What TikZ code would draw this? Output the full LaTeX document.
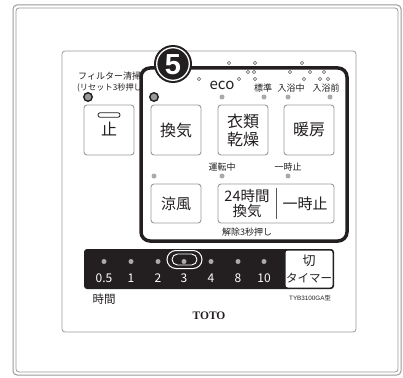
\documentclass[tikz,border=0pt]{standalone}
\usepackage{fontspec}
\setmainfont{Noto Sans CJK JP}
\newfontfamily\libsans{Liberation Sans}
\newfontfamily\libserif{Liberation Serif}
\definecolor{ink}{HTML}{231F20}
\definecolor{panelgray}{HTML}{9A9A9A}
\definecolor{ledgray}{HTML}{AAAAAA}
\newcommand{\fs}[1]{\fontsize{#1}{#1}\selectfont}
\begin{document}
\begin{tikzpicture}[x=1pt,y=-1pt,
  btn/.style={draw=panelgray, line width=0.9pt, rounded corners=3pt, fill=white, inner sep=0pt, text=ink},
  lbl/.style={inner sep=0pt, font=\fs{9}, text=ink},
  dotled/.style={circle, fill=ledgray, inner sep=0pt, minimum size=5pt},
  bigled/.style={circle, fill=gray!80, draw=ink, line width=1.4pt, inner sep=0pt, minimum size=8.5pt},
  tinyo/.style={circle, draw=ink, line width=0.45pt, inner sep=0pt, minimum size=3.2pt},
  num/.style={inner sep=0pt, text=white, font=\fs{12}}]
\useasboundingbox (0,0) rectangle (403,377);
% frames
\draw[panelgray, line width=1pt, rounded corners=4pt] (13,5) rectangle (401,375);
\draw[panelgray, line width=0.8pt, rounded corners=3pt] (16,8) rectangle (398,372);
\draw[panelgray, line width=0.8pt, rounded corners=3pt] (62,51) rectangle (356,332);
% filter text
\node[lbl, anchor=west] (filt1) at (78,76) {フィルター清掃};
\node[lbl, anchor=west, font=\fs{8.2}] (filt2) at (77,88) {(リセット3秒押し};
% black box interior
\fill[white, rounded corners=9pt] (141,68) rectangle (347,241);
% tiny circles
\foreach \x/\y [count=\i] in {199/79,229/63,239/79,248/72,254/72,255/63,255/79,290/72,302/63,304/79,310/72,320/79,324/72,328/79}
  \node[tinyo] (o\i) at (\x,\y) {};
% black box border
\draw[ink, line width=3.5pt, rounded corners=9pt] (141,68) rectangle (347,241);
% circle 5
\node[circle, fill=ink, minimum size=38pt, inner sep=0pt] (five) at (173,64) {};
\draw[white, line width=1.3pt] (five.center) circle[radius=16.3pt];
\node[inner sep=0pt, text=white, font=\libsans\bfseries\fs{29}] (fivet) at (173,65) {5};
% left stop button
\node[btn, minimum width=50pt, minimum height=50pt] (stop) at (109,130) {};
\node[draw=ink, line width=0.8pt, rounded corners=2.2pt, minimum width=22pt, minimum height=4.6pt, inner sep=0pt] (pill) at (109,115) {};
\node[inner sep=0pt, text=ink, font=\fs{16}] (stopt) at (109,129) {止};
% row 1 buttons
\node[btn, minimum width=50pt, minimum height=50pt, font=\fs{16}] (kanki) at (176,130) {換気};
\node[btn, minimum width=50pt, minimum height=50pt, font=\fontsize{16}{18}\selectfont, align=center] (dry) at (243,130) {衣類\\乾燥};
\node[btn, minimum width=50pt, minimum height=50pt, font=\fs{16}] (heat) at (309,130) {暖房};
% row 2 buttons
\node[btn, minimum width=50pt, minimum height=39pt, font=\fs{15}] (cool) at (176,203.5) {涼風};
\node[btn, minimum width=116pt, minimum height=39pt] (vent) at (276,203.5) {};
\draw[ink!75, line width=0.9pt] ([yshift=-4pt]vent.north) -- ([yshift=4pt]vent.south);
\node[inner sep=0pt, text=ink, font=\fontsize{14.5}{15}\selectfont, align=center] (ventt) at (247,204) {24時間\\換気};
\node[inner sep=0pt, text=ink, font=\fs{15}] (pause) at (305,204) {一時止};
% leds and labels row 1
\node[bigled] (led1) at (88,97) {};
\node[bigled] (led2) at (154,97) {};
\node[inner sep=0pt, text=ink, font=\fs{15}] (eco) at (222,85.5) {eco};
\node[lbl] (std) at (263,88) {標準};
\node[lbl] (bath) at (291,88) {入浴中};
\node[lbl] (pre) at (326,88) {入浴前};
\node[dotled] (d1) at (222,97) {};
\node[dotled] (d2) at (264,97) {};
\node[dotled] (d3) at (288,97) {};
\node[dotled] (d4) at (330,97) {};
% row 2 labels
\node[lbl] (run) at (222,167) {運転中};
\node[lbl] (pz) at (288,167) {一時止};
\node[dotled] (d5) at (154,176) {};
\node[dotled] (d6) at (222,176) {};
\node[dotled] (d7) at (288,176) {};
\node[lbl] (rel) at (247,232) {解除3秒押し};
% timer bar
\node[fill=ink, rounded corners=3pt, minimum width=250pt, minimum height=40pt, inner sep=0pt] (tbar) at (209,269) {};
\node[fill=white, rounded corners=2.5pt, minimum width=47pt, minimum height=37pt, inner sep=0pt] (tbtn) at (309,269) {};
\node[inner sep=0pt, text=ink, font=\fs{13}] (kiri) at (309,261) {切};
\node[inner sep=0pt, text=ink, font=\fs{11.5}] (timer) at (309,278) {タイマー};
\draw[white, line width=1pt, rounded corners=9pt] (167,250.5) rectangle (202,268.5);
\draw[white, line width=0.9pt, rounded corners=5.5pt] (172,254) rectangle (197,265);
\foreach \x/\t [count=\i] in {104/0.5,131/1,158/2,184/3,211/4,238/8,264/10}{
  \node[dotled] (t\i) at (\x,261.5) {};
  \node[num] (n\i) at (\x,278) {\t};
}
% bottom texts
\node[inner sep=0pt, text=ink, font=\fs{11.5}] (hours) at (104,299) {時間};
\node[inner sep=0pt, text=ink, font=\fs{6.3}] (model) at (310,298) {{\libsans TYB3100GA}型};
\node[inner sep=0pt, text=ink, font=\libserif\bfseries\fs{11.5}] (toto) at (209,316) {TOTO};
\end{tikzpicture}
\end{document}
